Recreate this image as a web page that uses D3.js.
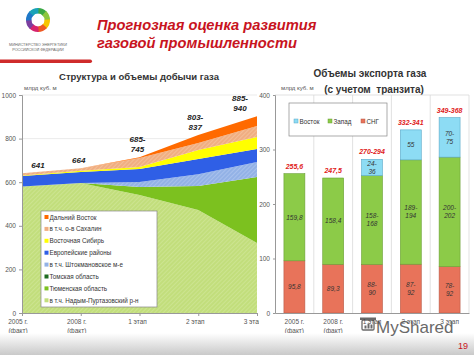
<!DOCTYPE html>
<html><head><meta charset="utf-8">
<script src="https://cdn.jsdelivr.net/npm/d3@7"></script>
<style>body{margin:0;background:#fff}svg{display:block;font-family:"Liberation Sans",Arial,sans-serif}</style>
</head><body><svg id="c" width="474" height="355"></svg>
<script>
// ---------- DATA ----------
const categories = ["2005 г.|(факт)", "2008 г.|(факт)", "1 этап", "2 этап", "3 этап"];
// production, bln m3 (stack bottom -> top)
const nadym      = [580, 596, 541, 472, 321];
const tyumenRest = [0, 0, 37, 111, 303];
const tomsk      = [0, 0, 0, 0, 0];
const shtokman   = [0, 0, 23, 54, 69];
const europe     = [48, 51, 59, 69, 59];
const eastSib    = [3, 5, 10, 42, 55];
const sakhalin   = [10, 12, 41, 32, 51];
const farEast    = [0, 0, 4, 37, 45];
const prodLabels = ["641", "664", "685-|745", "803-|837", "885-|940"];
const prodTicks  = [0, 200, 400, 600, 800, 1000];
const prodLegend = ["Дальний Восток", "в т.ч. о-в Сахалин", "Восточная Сибирь", "Европейские районы",
                    "в т.ч. Штокмановское м-е", "Томская область", "Тюменская область", "в т.ч. Надым-Пуртазовский р-н"];
// export, bln m3
const sng  = [95.8, 89.3, 89, 89.5, 85];
const west = [159.8, 158.4, 163, 191.5, 201];
const east = [0, 0, 30, 55, 72.5];
const sngLabels   = ["95,8", "89,3", "88-|90", "87-|92", "78-|92"];
const westLabels  = ["159,8", "158,4", "158-|168", "189-|194", "200-|202"];
const eastLabels  = ["", "", "24-|36", "55", "70-|75"];
const totalLabels = ["255,6", "247,5", "270-294", "332-341", "349-368"];
const expTicks = [0, 100, 200, 300, 400];
const expLegend = ["Восток", "Запад", "СНГ"];

// ---------- SETUP ----------
const svg = d3.select("#c");
const defs = svg.append("defs");
function hatch(id, base, line) {
  const p = defs.append("pattern").attr("id", id).attr("patternUnits", "userSpaceOnUse")
    .attr("width", 3).attr("height", 3).attr("patternTransform", "rotate(45)");
  p.append("rect").attr("width", 3).attr("height", 3).attr("fill", base);
  p.append("line").attr("x1", 0).attr("y1", 0).attr("x2", 0).attr("y2", 3).attr("stroke", line).attr("stroke-width", 1.2);
}
hatch("hNadym", "#c2de7c", "#d4e99e");
hatch("hShtok", "#93b2e6", "#b4caf0");
hatch("hSakh", "#f0ae82", "#f7c9a6");
const grad = defs.append("linearGradient").attr("id", "gBot").attr("x1", 0).attr("y1", 0).attr("x2", 0).attr("y2", 1);
grad.append("stop").attr("offset", 0).attr("stop-color", "#ffffff");
grad.append("stop").attr("offset", 1).attr("stop-color", "#c9c9c9");

// ---------- HEADER ----------
const logo = svg.append("g").attr("transform", "translate(38,20)");
const logoCols = ["#3aa844", "#8cc63f", "#f7c600", "#ee5a24", "#d6246e", "#7b3fa0", "#1f78c8", "#1aa3b8"];
const arc = d3.arc().innerRadius(6.5).outerRadius(12);
logoCols.forEach((c, i) => {
  logo.append("path").attr("d", arc({startAngle: i * Math.PI / 4 - 0.05, endAngle: (i + 1) * Math.PI / 4 + 0.05})).attr("fill", c);
});
svg.append("text").attr("x", 38).attr("y", 46).attr("text-anchor", "middle").attr("font-size", 3.8).attr("fill", "#666").text("МИНИСТЕРСТВО ЭНЕРГЕТИКИ");
svg.append("text").attr("x", 38).attr("y", 51).attr("text-anchor", "middle").attr("font-size", 3.8).attr("fill", "#666").text("РОССИЙСКОЙ ФЕДЕРАЦИИ");
svg.append("rect").attr("x", -4).attr("y", 59.5).attr("width", 96).attr("height", 3.5).attr("rx", 1.7).attr("fill", "#cf2b2b");
svg.append("text").attr("x", 97).attr("y", 30).attr("font-size", 14.7).attr("font-weight", "bold").attr("font-style", "italic").attr("fill", "#c8141e").text("Прогнозная оценка развития");
svg.append("text").attr("x", 97).attr("y", 47.5).attr("font-size", 14.7).attr("font-weight", "bold").attr("font-style", "italic").attr("fill", "#c8141e").text("газовой промышленности");

// ---------- LEFT CHART ----------
const L = {x0: 22, x1: 257, y0: 313, y1: 95};
const xL = d3.scalePoint().domain(categories).range([L.x0, L.x1]);
const yL = d3.scaleLinear().domain([0, 1000]).range([L.y0, L.y1]);
svg.append("text").attr("x", 139).attr("y", 80).attr("text-anchor", "middle").attr("font-size", 9.5).attr("font-weight", "bold").attr("fill", "#333").text("Структура и объемы добычи газа");
svg.append("text").attr("x", 24).attr("y", 90).attr("font-size", 6).attr("fill", "#555").text("млрд куб. м");
// grid
svg.append("g").selectAll("line").data(prodTicks.slice(1)).join("line")
  .attr("x1", L.x0).attr("x2", L.x1).attr("y1", d => yL(d)).attr("y2", d => yL(d)).attr("stroke", "#e2e2e2").attr("stroke-width", 0.7);

const prodKeys = ["nadym", "tyumenRest", "tomsk", "shtokman", "europe", "eastSib", "sakhalin", "farEast"];
const prodSeries = {nadym, tyumenRest, tomsk, shtokman, europe, eastSib, sakhalin, farEast};
const prodFill = {nadym: "url(#hNadym)", tyumenRest: "#7cc11f", tomsk: "#1f6b22", shtokman: "url(#hShtok)",
  europe: "#2f5fe6", eastSib: "#ffff00", sakhalin: "url(#hSakh)", farEast: "#ff6a00"};
const prodMark = {nadym: "#c2de7c", tyumenRest: "#7cc11f", tomsk: "#1f6b22", shtokman: "#93b2e6",
  europe: "#2f5fe6", eastSib: "#ffff00", sakhalin: "#f0ae82", farEast: "#ff6a00"};
const prodRows = categories.map((c, i) => {
  const r = {cat: c};
  prodKeys.forEach(k => r[k] = prodSeries[k][i]);
  return r;
});
const stackL = d3.stack().keys(prodKeys)(prodRows);
const area = d3.area().x(d => xL(d.data.cat)).y0(d => yL(d[0])).y1(d => yL(d[1]));
svg.append("g").selectAll("path").data(stackL).join("path")
  .attr("d", area).attr("fill", d => prodFill[d.key]);
// axes
const axL = svg.append("g").attr("transform", `translate(${L.x0},0)`)
  .call(d3.axisLeft(yL).tickValues(prodTicks).tickSize(3).tickFormat(d3.format("d")));
axL.select(".domain").attr("stroke", "#999");
axL.selectAll(".tick line").attr("stroke", "#999");
axL.selectAll("text").attr("font-size", 6.5).attr("fill", "#555").attr("font-family", "Liberation Sans, Arial");
const axLB = svg.append("g").attr("transform", `translate(0,${L.y0})`)
  .call(d3.axisBottom(xL).tickSize(3).tickFormat(""));
axLB.select(".domain").attr("stroke", "#999");
axLB.selectAll(".tick line").attr("stroke", "#999");
const labelShift = [-4, -4, -2, -3, -4];
categories.forEach((c, i) => {
  const t = svg.append("text").attr("text-anchor", "middle").attr("font-size", 6.5).attr("fill", "#555");
  c.split("|").forEach((s, j) => t.append("tspan").attr("x", xL(c) + labelShift[i]).attr("y", 324 + j * 9).text(s));
});
// total labels
const totals = prodRows.map(r => prodKeys.reduce((s, k) => s + r[k], 0));
const labNudge = [16, -2, -2, -3, -17];
prodLabels.forEach((lab, i) => {
  const lines = lab.split("|");
  const base = yL(totals[i]) - 5;
  lines.forEach((s, j) => {
    svg.append("text").attr("x", xL(categories[i]) + labNudge[i]).attr("y", base - (lines.length - 1 - j) * 10)
      .attr("text-anchor", "middle").attr("font-size", 8).attr("font-weight", "bold").attr("font-style", "italic").attr("fill", "#222").text(s);
  });
});
// legend
const lg = svg.append("g").attr("transform", "translate(41,211)");
lg.append("rect").attr("width", 116).attr("height", 96).attr("fill", "#fff").attr("stroke", "#888").attr("stroke-width", 0.7);
const legKeys = prodKeys.slice().reverse();
legKeys.forEach((k, i) => {
  lg.append("rect").attr("x", 3.5).attr("y", 4 + i * 11.9).attr("width", 4).attr("height", 4).attr("fill", prodMark[k]);
  lg.append("text").attr("x", 8.5).attr("y", 8.5 + i * 11.9).attr("font-size", 6.3).attr("fill", "#333").text(prodLegend[i]);
});

// ---------- RIGHT CHART ----------
svg.append("rect").attr("x", 259).attr("y", 62).attr("width", 215).attr("height", 275).attr("fill", "#fff");
const R = {x0: 275, x1: 469, y0: 313, y1: 95};
const xR = d3.scaleBand().domain(categories).range([R.x0, R.x1]).paddingInner(0.46).paddingOuter(0.23);
const step = (R.x1 - R.x0) / categories.length;
const yR = d3.scaleLinear().domain([0, 400]).range([R.y0, R.y1]);
svg.append("text").attr("x", 370).attr("y", 77).attr("text-anchor", "middle").attr("font-size", 10).attr("font-weight", "bold").attr("fill", "#333").text("Объемы экспорта газа");
svg.append("text").attr("x", 374).attr("y", 93).attr("text-anchor", "middle").attr("font-size", 10).attr("font-weight", "bold").attr("fill", "#333").attr("xml:space", "preserve").text("(с учетом  транзита)");
svg.append("text").attr("x", 281).attr("y", 90).attr("font-size", 6).attr("fill", "#555").text("млрд куб. м");
// grid (vertical separators)
svg.append("g").selectAll("line").data(d3.range(1, categories.length + 1)).join("line")
  .attr("x1", d => R.x0 + d * step).attr("x2", d => R.x0 + d * step).attr("y1", R.y1).attr("y2", R.y0)
  .attr("stroke", "#d9d9d9").attr("stroke-width", 0.8);
svg.append("line").attr("x1", R.x0).attr("x2", R.x1).attr("y1", R.y1).attr("y2", R.y1).attr("stroke", "#d9d9d9").attr("stroke-width", 0.8);
const expKeys = ["sng", "west", "east"];
const expSeries = {sng, west, east};
const expLabs = {sng: sngLabels, west: westLabels, east: eastLabels};
const expFill = {sng: "#e8735a", west: "#8ccb48", east: "#8ddcf4"};
const expStroke = {sng: "#b85a48", west: "#6aa035", east: "#5aa8c8"};
const expRows = categories.map((c, i) => {
  const r = {cat: c};
  expKeys.forEach(k => r[k] = expSeries[k][i]);
  return r;
});
const stackR = d3.stack().keys(expKeys)(expRows);
const gb = svg.append("g");
stackR.forEach(s => {
  gb.selectAll(null).data(s.filter(d => d[1] - d[0] > 0)).join("rect")
    .attr("x", d => xR(d.data.cat)).attr("width", xR.bandwidth())
    .attr("y", d => yR(d[1])).attr("height", d => yR(d[0]) - yR(d[1]))
    .attr("fill", expFill[s.key]).attr("stroke", expStroke[s.key]).attr("stroke-width", 0.6);
  s.forEach((d, i) => {
    const lab = expLabs[s.key][i];
    if (!lab) return;
    const lines = lab.split("|");
    const cy = (yR(d[0]) + yR(d[1])) / 2;
    lines.forEach((t, j) => {
      svg.append("text").attr("x", xR(d.data.cat) + xR.bandwidth() / 2)
        .attr("y", cy + 2.3 + (j - (lines.length - 1) / 2) * 8)
        .attr("text-anchor", "middle").attr("font-size", 6.5).attr("font-style", "italic").attr("fill", "#333").text(t);
    });
  });
});
const expTot = expRows.map(r => expKeys.reduce((s, k) => s + r[k], 0));
totalLabels.forEach((t, i) => {
  svg.append("text").attr("x", xR(categories[i]) + xR.bandwidth() / 2).attr("y", yR(expTot[i]) - 5)
    .attr("text-anchor", "middle").attr("font-size", 7).attr("font-weight", "bold").attr("font-style", "italic").attr("fill", "#e02020").text(t);
});
const axR = svg.append("g").attr("transform", `translate(${R.x0},0)`)
  .call(d3.axisLeft(yR).tickValues(expTicks).tickSize(2));
axR.select(".domain").attr("stroke", "#999");
axR.selectAll(".tick line").attr("stroke", "#999");
axR.selectAll("text").attr("font-size", 6.5).attr("fill", "#555").attr("font-family", "Liberation Sans, Arial");
const axRB = svg.append("g").attr("transform", `translate(0,${R.y0})`)
  .call(d3.axisBottom(xR).tickSize(0).tickFormat(""));
axRB.select(".domain").attr("stroke", "#999");
categories.forEach((c, i) => {
  const t = svg.append("text").attr("text-anchor", "middle").attr("font-size", 6.5).attr("fill", "#555");
  c.split("|").forEach((s, j) => t.append("tspan").attr("x", xR(c) + xR.bandwidth() / 2).attr("y", 324 + j * 9).text(s));
});
// legend
const rl = svg.append("g").attr("transform", "translate(289,103)");
rl.append("rect").attr("width", 98).attr("height", 33).attr("fill", "#fff").attr("stroke", "#888").attr("stroke-width", 0.7);
const legX = [5, 39, 72];
["east", "west", "sng"].forEach((k, i) => {
  rl.append("rect").attr("x", legX[i]).attr("y", 16).attr("width", 4).attr("height", 4).attr("fill", expFill[k]).attr("stroke", expStroke[k]).attr("stroke-width", 0.5);
  rl.append("text").attr("x", legX[i] + 5.5).attr("y", 20.5).attr("font-size", 6.3).attr("fill", "#333").text(expLegend[i]);
});

// ---------- FOOTER ----------
svg.append("rect").attr("x", 0).attr("y", 333).attr("width", 474).attr("height", 22).attr("fill", "url(#gBot)");
svg.append("text").attr("x", 468).attr("y", 349).attr("text-anchor", "end").attr("font-size", 9).attr("fill", "#c8141e").text("19");
const wm = svg.append("g").attr("opacity", 0.8);
wm.append("rect").attr("x", 362).attr("y", 320).attr("width", 12).attr("height", 10).attr("rx", 1.2).attr("fill", "none").attr("stroke", "#444").attr("stroke-width", 1.3);
wm.append("rect").attr("x", 360).attr("y", 317.5).attr("width", 16).attr("height", 2.5).attr("fill", "#444");
[[364.5, 3], [367.5, 5], [370.5, 4]].forEach(b => wm.append("rect").attr("x", b[0]).attr("y", 328.5 - b[1]).attr("width", 2).attr("height", b[1]).attr("fill", "#444"));
wm.append("text").attr("x", 376).attr("y", 333).attr("font-size", 17).attr("fill", "#444").attr("stroke", "#fff").attr("stroke-width", 0.6).attr("paint-order", "stroke").text("MyShared");
</script></body></html>
